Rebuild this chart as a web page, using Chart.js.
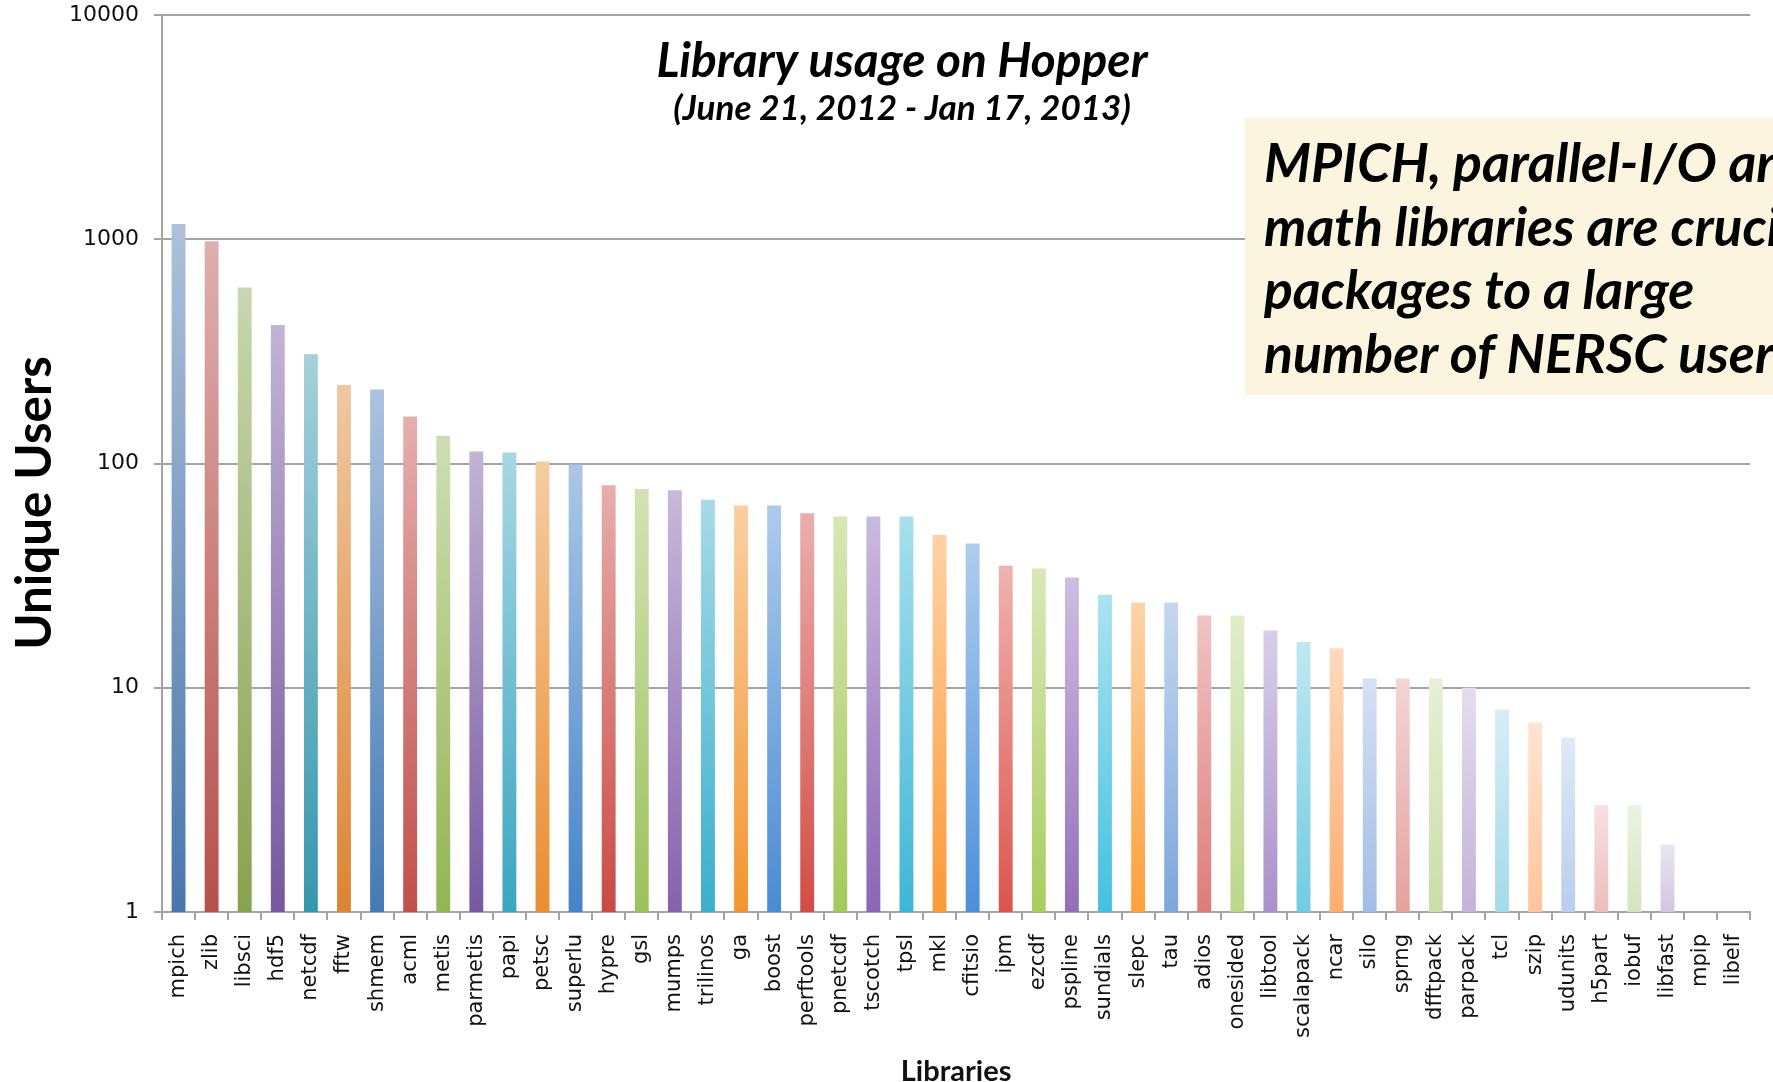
<!DOCTYPE html>
<html>
<head>
<meta charset="utf-8">
<title>Library usage on Hopper</title>
<script src="https://cdn.jsdelivr.net/npm/chart.js@4.4.1/dist/chart.umd.min.js"></script>
<style>
  html, body { margin: 0; padding: 0; background: #fff; }
  #wrap { width: 1773px; height: 1082px; }
</style>
</head>
<body>
<div id="wrap"><canvas id="libChart"></canvas></div>
<script>
const libraries = [
  'mpich', 'zlib', 'libsci', 'hdf5', 'netcdf', 'fftw', 'shmem', 'acml', 'metis', 'parmetis',
  'papi', 'petsc', 'superlu', 'hypre', 'gsl', 'mumps', 'trilinos', 'ga', 'boost', 'perftools',
  'pnetcdf', 'tscotch', 'tpsl', 'mkl', 'cfitsio', 'ipm', 'ezcdf', 'pspline', 'sundials', 'slepc',
  'tau', 'adios', 'onesided', 'libtool', 'scalapack', 'ncar', 'silo', 'sprng', 'dfftpack', 'parpack',
  'tcl', 'szip', 'udunits', 'h5part', 'iobuf', 'libfast', 'mpip', 'libelf'
];
const uniqueUsers = [
  1170, 980, 610, 415, 307, 224, 214, 162, 133, 113,
  112, 102, 99, 80, 77, 76, 69, 65, 65, 60,
  58, 58, 58, 48, 44, 35, 34, 31, 26, 24,
  24, 21, 21, 18, 16, 15, 11, 11, 11, 10,
  8, 7, 6, 3, 3, 2, 1, 1
];
const yTickValues = [1, 10, 100, 1000, 10000];
const titleLines = ['Library usage on Hopper', '(June 21, 2012 - Jan 17, 2013)'];
const noteLines = ['MPICH, parallel-I/O and', 'math libraries are crucial', 'packages to a large', 'number of NERSC users'];
const yTitle = 'Unique Users';
const xTitle = 'Libraries';

// base (bottom) colour of every bar, the top of each bar fades to a lighter tint
const barColors = [
  '#4A76AC', '#B6504B', '#86A34E', '#7558A0', '#3797AD', '#DC8532', '#4479B5', '#C24E4B',
  '#93B553', '#7659A1', '#3BA6C0', '#E98D30', '#4683C7', '#C94A45', '#9CC15A', '#8562AE',
  '#3AAFCB', '#F4952F', '#4A8BD5', '#D34C46', '#A5C95B', '#8A66B5', '#3EB7D6', '#FC9A37',
  '#4C90DA', '#DB554D', '#AACC60', '#936EBA', '#44C1E0', '#FFA03C', '#7DA6DC', '#DE7C7A',
  '#BBD88A', '#A891CB', '#72CBE2', '#FFAD6E', '#A2BDE4', '#E5A29F', '#C9DEA6', '#C2B3D9',
  '#A3DAEA', '#FFC59B', '#B9CEEC', '#EDBDBD', '#D3E5BF', '#D0C6E2', '#D0D0D0', '#D0D0D0'
];

function lighten(hex, amt) {
  const n = parseInt(hex.slice(1), 16);
  const mix = c => Math.round(c + (255 - c) * amt);
  return `rgb(${mix(n >> 16)}, ${mix((n >> 8) & 255)}, ${mix(n & 255)})`;
}

function barGradient(context) {
  const chart = context.chart;
  const area = chart.chartArea;
  const base = barColors[context.dataIndex % barColors.length];
  if (!area || !chart.scales.y) return base;
  const top = chart.scales.y.getPixelForValue(context.raw);
  if (!isFinite(top) || top >= area.bottom - 1) return base;
  const g = chart.ctx.createLinearGradient(0, top, 0, area.bottom);
  g.addColorStop(0, lighten(base, 0.55));
  g.addColorStop(1, base);
  return g;
}

function fitFont(ctx, text, width, style, family) {
  ctx.font = `${style} 100px ${family}`;
  const size = 100 * width / ctx.measureText(text).width;
  return `${style} ${size.toFixed(1)}px ${family}`;
}

const overlayText = {
  id: 'overlayText',
  afterDraw(chart) {
    const ctx = chart.ctx;
    ctx.save();
    ctx.fillStyle = '#000';
    ctx.textAlign = 'center';
    ctx.textBaseline = 'alphabetic';
    ctx.font = fitFont(ctx, titleLines[0], 491, 'italic bold', 'Lato');
    ctx.fillText(titleLines[0], 902, 77);
    ctx.font = fitFont(ctx, titleLines[1], 458, 'italic bold', 'Lato');
    ctx.fillText(titleLines[1], 902, 120);

    ctx.save();
    ctx.translate(51, 503);
    ctx.rotate(-Math.PI / 2);
    ctx.font = fitFont(ctx, yTitle, 294, 'bold', 'Lato');
    ctx.fillText(yTitle, 0, 0);
    ctx.restore();

    // call-out box
    ctx.fillStyle = '#FBF5E0';
    ctx.fillRect(1245, 118, 528, 277);
    ctx.fillStyle = '#000';
    ctx.textAlign = 'left';
    ctx.font = fitFont(ctx, noteLines[2], 430, 'italic bold', 'Lato');
    noteLines.forEach((line, i) => ctx.fillText(line, 1264, 182 + i * 63.7));
    ctx.restore();
  }
};

const gridGrey = '#A4A4A4';

new Chart(document.getElementById('libChart'), {
  type: 'bar',
  data: {
    labels: libraries,
    datasets: [
      {
        label: yTitle,
        data: uniqueUsers,
        backgroundColor: barGradient,
        barPercentage: 0.42,
        categoryPercentage: 1,
      },
    ],
  },
  options: {
    responsive: true,
    maintainAspectRatio: false,
    animation: false,
    devicePixelRatio: 1,
    layout: { padding: { top: 15, right: 15, left: 0, bottom: 0 } },
    plugins: {
      legend: { display: false },
      tooltip: { enabled: false },
      title: { display: false },
    },
    scales: {
      x: {
        grid: { offset: true, drawOnChartArea: false, tickLength: 8, color: gridGrey, lineWidth: 2 },
        border: { color: gridGrey, width: 2 },
        ticks: {
          autoSkip: false,
          minRotation: 90,
          maxRotation: 90,
          padding: 14,
          color: '#111',
          font: { family: 'DejaVu Sans', size: 21 },
        },
        title: {
          display: true,
          text: xTitle,
          color: '#111',
          font: { family: 'Lato', weight: 'bold', size: 29, lineHeight: 1 },
          padding: { top: 0, bottom: -4 },
        },
        afterFit(scale) {
          scale.height = 170;
        },
      },
      y: {
        type: 'logarithmic',
        min: 1,
        max: 10000,
        afterBuildTicks(scale) {
          scale.ticks = yTickValues.map(v => ({ value: v }));
        },
        grid: { color: gridGrey, lineWidth: 2, tickLength: 8 },
        border: { color: gridGrey, width: 2 },
        ticks: {
          padding: 15,
          color: '#111',
          font: { family: 'DejaVu Sans', size: 22 },
          callback: value => String(value),
        },
        afterFit(scale) {
          scale.width = 162;
          scale.paddingTop = 0;
          scale.paddingBottom = 0;
        },
      },
    },
  },
  plugins: [overlayText],
});
</script>
</body>
</html>
